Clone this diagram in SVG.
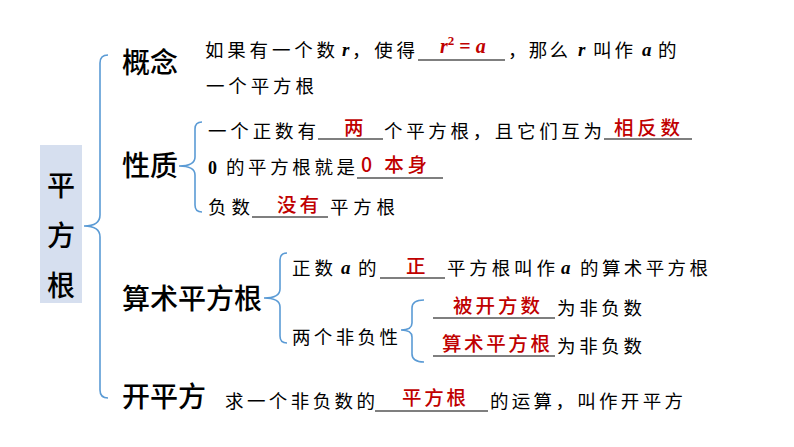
<svg xmlns="http://www.w3.org/2000/svg" width="794" height="447" viewBox="0 0 794 447">
<style>
.t{font-family:"Noto Sans CJK SC","Noto Sans",sans-serif;font-size:28px;font-weight:500;fill:#000}
.b{font-family:"Noto Sans CJK SC","Noto Sans",sans-serif;font-size:18.5px;fill:#000}
.r{font-family:"Noto Sans CJK SC","Noto Sans",sans-serif;font-size:19.5px;font-weight:500;fill:#C00000}
.v{font-family:"Liberation Serif",serif;font-style:italic;font-weight:bold;font-size:19px;fill:#000}
.n{font-family:"Liberation Serif",serif;font-weight:bold;font-size:18px;fill:#000}
.u{stroke:#000;stroke-width:1.2}
.br{fill:none;stroke:#5B9BD5;stroke-width:1.6}
</style>
<rect width="794" height="447" fill="#fff"/>
<g id="root">
<rect x="40" y="145" width="42" height="158" fill="#D6DFEF"/>
<text class="t" x="61" y="196" text-anchor="middle" font-size="29">平</text>
<text class="t" x="61" y="246" text-anchor="middle" font-size="29">方</text>
<text class="t" x="61" y="296" text-anchor="middle" font-size="29">根</text>
</g>
<g id="connectors">
<path class="br" d="M108,55 Q100,55 100,63 L100,215 Q100,226 84,226 Q100,226 100,237 L100,390 Q100,398 108,398"/>
<path class="br" d="M202,122 Q195,122 195,129 L195,157 Q195,166 179,166 Q195,166 195,175 L195,205 Q195,212 202,212"/>
<path class="br" d="M287,253 Q280,253 280,260 L280,289 Q280,298 264,298 Q280,298 280,307 L280,336 Q280,343 287,343"/>
<path class="br" d="M424,300 Q412,300 412,308 L412,323 Q412,330 401,330 Q412,330 412,337 L412,354 Q412,362 424,362"/>
</g>
<g id="gainian">
<text class="t" x="122" y="73">概念</text>
<text class="b" x="205" y="57" textLength="130" lengthAdjust="spacing">如果有一个数</text>
<text class="v" x="342" y="56">r</text>
<text class="b" x="352" y="57" textLength="63" lengthAdjust="spacing">，使得</text>
<line class="u" x1="418" y1="60" x2="505" y2="60"/>
<text x="440" y="53" font-family="Liberation Serif,serif" font-weight="bold" font-style="italic" font-size="20" fill="#C00000">r<tspan font-style="normal" font-size="13" dy="-8">2</tspan><tspan font-style="normal" dy="8"> = </tspan>a</text>
<text class="b" x="508" y="57" textLength="60" lengthAdjust="spacing">，那么</text>
<text class="v" x="578" y="56">r</text>
<text class="b" x="593" y="57" textLength="40" lengthAdjust="spacing">叫作</text>
<text class="v" x="642" y="56">a</text>
<text class="b" x="658" y="57" textLength="20" lengthAdjust="spacing">的</text>
<text class="b" x="206" y="93" textLength="108" lengthAdjust="spacing">一个平方根</text>
</g>
<g id="xingzhi">
<text class="t" x="122" y="176">性质</text>
<text class="b" x="208" y="138" textLength="108" lengthAdjust="spacing">一个正数有</text>
<line class="u" x1="318" y1="139" x2="383" y2="139"/>
<text class="r" x="344" y="135">两</text>
<text class="b" x="384" y="138" textLength="218" lengthAdjust="spacing">个平方根，且它们互为</text>
<line class="u" x1="604" y1="139" x2="692" y2="139"/>
<text class="r" x="614" y="135" textLength="66" lengthAdjust="spacing">相反数</text>
<text class="n" x="208" y="174">0</text>
<text class="b" x="226" y="174" textLength="129" lengthAdjust="spacing">的平方根就是</text>
<line class="u" x1="357" y1="178" x2="443" y2="178"/>
<text class="r" x="361" y="172" textLength="66" lengthAdjust="spacing">0 本身</text>
<text class="b" x="208" y="214" textLength="42" lengthAdjust="spacing">负数</text>
<line class="u" x1="252" y1="217" x2="328" y2="217"/>
<text class="r" x="277" y="212" textLength="42" lengthAdjust="spacing">没有</text>
<text class="b" x="330" y="214" textLength="65" lengthAdjust="spacing">平方根</text>
</g>
<g id="suanshu">
<text class="t" x="122" y="309">算术平方根</text>
<text class="b" x="292" y="275" textLength="41" lengthAdjust="spacing">正数</text>
<text class="v" x="341" y="274">a</text>
<text class="b" x="358" y="275" textLength="20" lengthAdjust="spacing">的</text>
<line class="u" x1="380" y1="278" x2="445" y2="278"/>
<text class="r" x="406" y="273">正</text>
<text class="b" x="447" y="275" textLength="108" lengthAdjust="spacing">平方根叫作</text>
<text class="v" x="561" y="274">a</text>
<text class="b" x="580" y="275" textLength="128" lengthAdjust="spacing">的算术平方根</text>
<text class="b" x="292" y="344" textLength="106" lengthAdjust="spacing">两个非负性</text>
<line class="u" x1="433" y1="318" x2="555" y2="318"/>
<text class="r" x="453" y="313" textLength="87" lengthAdjust="spacing">被开方数</text>
<text class="b" x="557" y="315" textLength="85" lengthAdjust="spacing">为非负数</text>
<line class="u" x1="433" y1="356" x2="555" y2="356"/>
<text class="r" x="442" y="351" textLength="108" lengthAdjust="spacing">算术平方根</text>
<text class="b" x="557" y="353" textLength="85" lengthAdjust="spacing">为非负数</text>
</g>
<g id="kaipingfang">
<text class="t" x="122" y="407">开平方</text>
<text class="b" x="225" y="408" textLength="150" lengthAdjust="spacing">求一个非负数的</text>
<line class="u" x1="375" y1="411" x2="488" y2="411"/>
<text class="r" x="402" y="405" textLength="64" lengthAdjust="spacing">平方根</text>
<text class="b" x="490" y="408" textLength="193" lengthAdjust="spacing">的运算，叫作开平方</text>
</g>
</svg>
